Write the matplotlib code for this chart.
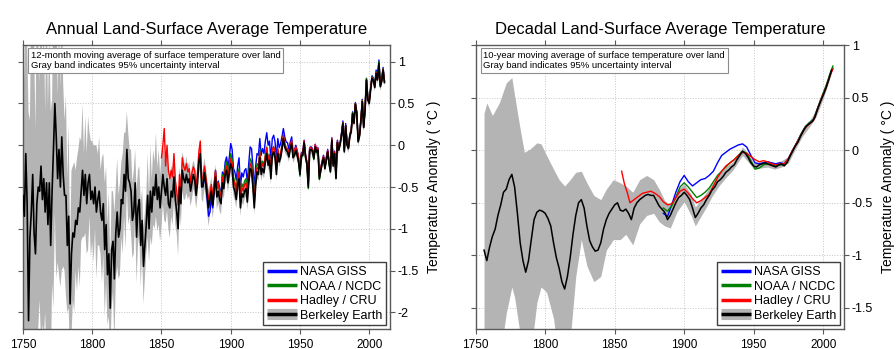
import numpy as np
import matplotlib
matplotlib.use("Agg")
import matplotlib.pyplot as plt
from matplotlib.lines import Line2D

plt.rcParams['font.family'] = ['Liberation Sans', 'DejaVu Sans']
plt.rcParams['axes.unicode_minus'] = False

# ---------------------------------------------------------------
# Annual panel: 12-month moving average
# ---------------------------------------------------------------
years_be = np.arange(1750, 2012)
be_annual = [
    -0.60, -0.85, -0.10, -0.70, -2.10, -1.10, -0.80, -0.35, -1.05, -1.30,
    -0.70, -0.50, -0.55, -0.25, -0.65, -0.40, -0.80, -0.45, -0.95, -0.45,
    -1.20, -0.55, -0.05, 0.50, 0.10, -0.40, -0.05, -0.50, 0.10, -0.35,
    -0.60, -0.60, -1.20, -0.85, -1.90, -1.30, -1.05, -1.10, -0.90, -0.95,
    -0.75, -0.80, -0.55, -0.30, -0.60, -0.35, -0.70, -0.45, -0.35, -0.65,
    -0.55, -0.70, -0.50, -0.80, -0.65, -0.55, -0.80, -0.90, -0.70, -1.25,
    -0.95, -1.55, -1.30, -1.95, -1.25, -1.15, -1.60, -1.05, -0.80, -1.10,
    -1.00, -0.65, -0.70, -0.35, -0.55, -0.05, -0.40, -0.45, -0.55, -0.90,
    -0.80, -0.45, -1.10, -0.75, -0.65, -1.20, -0.90, -1.45, -1.20, -0.95,
    -0.60, -1.00, -0.55, -0.80, -0.50, -0.60, -0.35, -0.65, -0.50, -0.75,
    -0.55, -0.35, -0.50, -0.60, -0.40, -0.70, -0.75, -0.55, -0.62, -0.38,
    -0.65, -0.80, -1.00, -0.50, -0.70, -0.30, -0.40, -0.45, -0.35, -0.45,
    -0.40, -0.55, -0.45, -0.35, -0.42, -0.60, -0.45, -0.20, -0.10, -0.50,
    -0.48, -0.33, -0.45, -0.60, -0.75, -0.65, -0.55, -0.72, -0.55, -0.38,
    -0.62, -0.55, -0.65, -0.70, -0.45, -0.52, -0.35, -0.30, -0.45, -0.33,
    -0.22, -0.28, -0.50, -0.55, -0.65, -0.48, -0.40, -0.75, -0.58, -0.62,
    -0.55, -0.52, -0.68, -0.45, -0.28, -0.30, -0.50, -0.75, -0.48, -0.32,
    -0.35, -0.15, -0.35, -0.28, -0.33, -0.20, -0.10, -0.24, -0.18, -0.40,
    -0.12, -0.08, -0.15, -0.35, -0.10, -0.20, -0.15, -0.05, 0.08, -0.02,
    -0.06, -0.08, -0.14, -0.04, 0.02, -0.15, -0.12, -0.06, -0.12, -0.20,
    -0.35, -0.12, -0.12, 0.03, -0.14, -0.22, -0.50, -0.06, -0.05, -0.07,
    -0.16, -0.02, -0.08, -0.06, -0.40, -0.30, -0.22, -0.15, -0.28, -0.18,
    -0.08, -0.22, -0.32, 0.06, -0.25, -0.10, -0.40, 0.03, -0.06, 0.01,
    0.12, 0.26, -0.08, 0.23, 0.00, -0.04, 0.11, 0.16, 0.38, 0.26,
    0.49, 0.38, 0.04, 0.11, 0.29, 0.52, 0.21, 0.42, 0.78, 0.54,
    0.50, 0.66, 0.80, 0.78, 0.69, 0.86, 0.78, 0.98, 0.70, 0.76,
    0.90, 0.75,
]
# half width of the 95% band
be_annual_unc = [
    2.2, 1.6, 2.8, 1.9, 2.5, 1.4, 2.6, 1.8, 2.3, 1.5,
    2.4, 1.7, 1.3, 2.1, 1.5, 1.9, 1.2, 2.2, 1.4, 1.8,
    1.6, 1.1, 1.9, 1.3, 1.7, 1.0, 1.5, 1.2, 1.6, 1.1,
    0.9, 1.2, 0.8, 1.1, 0.7, 1.0, 0.8, 0.9, 0.6, 0.8,
    0.7, 0.9, 0.6, 0.8, 0.5, 0.7, 0.6, 0.8, 0.5, 0.7,
    0.6, 0.7, 0.5, 0.8, 0.55, 0.65, 0.5, 0.75, 0.6, 0.8,
    0.7, 0.6, 0.75, 0.55, 0.7, 0.6, 0.8, 0.55, 0.65, 0.5,
    0.55, 0.45, 0.6, 0.5, 0.7, 0.45, 0.55, 0.4, 0.5, 0.45,
    0.5, 0.4, 0.55, 0.45, 0.4, 0.5, 0.38, 0.45, 0.4, 0.35,
    0.5, 0.4, 0.55, 0.4, 0.45, 0.4, 0.5, 0.38, 0.45, 0.4,
    0.42, 0.35, 0.4, 0.33, 0.38, 0.3, 0.36, 0.3, 0.34, 0.28,
    0.3, 0.26, 0.32, 0.24, 0.27, 0.22, 0.25, 0.2, 0.22, 0.2,
    0.2, 0.18, 0.19, 0.17, 0.18, 0.16, 0.17, 0.15, 0.16, 0.15,
    0.2, 0.18, 0.19, 0.2, 0.22, 0.18, 0.17, 0.16, 0.15, 0.15,
    0.15, 0.14, 0.14, 0.13, 0.13, 0.12, 0.12, 0.12, 0.11, 0.11,
    0.12, 0.11, 0.11, 0.11, 0.1, 0.1, 0.1, 0.1, 0.1, 0.1,
    0.1, 0.09, 0.09, 0.09, 0.09, 0.09, 0.09, 0.08, 0.08, 0.08,
    0.08, 0.08, 0.08, 0.07, 0.07, 0.07, 0.07, 0.07, 0.07, 0.07,
    0.06, 0.06, 0.06, 0.06, 0.06, 0.06, 0.06, 0.06, 0.06, 0.06,
    0.06, 0.06, 0.06, 0.06, 0.06, 0.06, 0.06, 0.06, 0.06, 0.06,
    0.05, 0.05, 0.05, 0.05, 0.05, 0.05, 0.05, 0.05, 0.05, 0.05,
    0.05, 0.05, 0.05, 0.05, 0.05, 0.05, 0.05, 0.05, 0.05, 0.05,
    0.05, 0.05, 0.05, 0.05, 0.05, 0.05, 0.05, 0.05, 0.05, 0.05,
    0.05, 0.05, 0.05, 0.05, 0.05, 0.05, 0.05, 0.05, 0.05, 0.05,
    0.05, 0.05, 0.05, 0.05, 0.05, 0.05, 0.05, 0.05, 0.05, 0.05,
    0.05, 0.05, 0.05, 0.05, 0.05, 0.05, 0.05, 0.05, 0.05, 0.05,
    0.05, 0.05,
]

years_had = np.arange(1850, 2012)
had_annual = [
    -0.15, 0.00, 0.20, -0.25, 0.00, -0.30, -0.40, -0.30, -0.38, -0.10,
    -0.42, -0.55, -0.72, -0.35, -0.55, -0.15, -0.25, -0.30, -0.22, -0.32,
    -0.28, -0.45, -0.33, -0.26, -0.30, -0.50, -0.32, -0.08, 0.05, -0.40,
    -0.40, -0.25, -0.38, -0.52, -0.65, -0.58, -0.47, -0.62, -0.45, -0.30,
    -0.52, -0.45, -0.56, -0.62, -0.38, -0.45, -0.30, -0.25, -0.38, -0.27,
    -0.16, -0.21, -0.42, -0.47, -0.55, -0.40, -0.32, -0.64, -0.50, -0.55,
    -0.47, -0.45, -0.60, -0.40, -0.22, -0.25, -0.45, -0.68, -0.42, -0.27,
    -0.28, -0.08, -0.28, -0.22, -0.26, -0.13, -0.03, -0.17, -0.12, -0.33,
    -0.05, -0.02, -0.08, -0.28, -0.04, -0.14, -0.10, 0.00, 0.12, 0.02,
    -0.04, -0.04, -0.10, 0.00, 0.06, -0.10, -0.06, -0.02, -0.06, -0.14,
    -0.30, -0.10, -0.09, 0.05, -0.12, -0.20, -0.45, -0.03, -0.03, -0.05,
    -0.13, 0.01, -0.05, -0.04, -0.36, -0.27, -0.19, -0.13, -0.25, -0.15,
    -0.06, -0.20, -0.28, 0.08, -0.22, -0.08, -0.37, 0.05, -0.04, 0.02,
    0.13, 0.27, -0.06, 0.24, 0.01, -0.03, 0.12, 0.18, 0.38, 0.28,
    0.50, 0.39, 0.06, 0.12, 0.31, 0.53, 0.22, 0.44, 0.78, 0.56,
    0.52, 0.68, 0.81, 0.78, 0.70, 0.87, 0.79, 0.96, 0.72, 0.77,
    0.91, 0.76,
]

years_us = np.arange(1880, 2012)
giss_annual = [
    -0.50, -0.35, -0.48, -0.65, -0.85, -0.80, -0.62, -0.75, -0.55, -0.30,
    -0.50, -0.43, -0.52, -0.58, -0.32, -0.38, -0.20, -0.14, -0.27, -0.14,
    0.02, -0.05, -0.28, -0.32, -0.42, -0.25, -0.15, -0.50, -0.33, -0.38,
    -0.30, -0.28, -0.45, -0.22, -0.02, -0.04, -0.25, -0.52, -0.25, -0.10,
    -0.12, 0.08, -0.12, -0.04, -0.10, 0.05, 0.15, 0.00, 0.05, -0.18,
    0.08, 0.12, 0.04, -0.16, 0.08, -0.03, 0.02, 0.10, 0.20, 0.10,
    0.04, 0.03, -0.05, 0.04, 0.10, -0.07, -0.06, 0.00, -0.07, -0.16,
    -0.30, -0.09, -0.09, 0.06, -0.11, -0.20, -0.46, -0.03, -0.02, -0.04,
    -0.13, 0.01, -0.05, -0.03, -0.37, -0.27, -0.19, -0.12, -0.25, -0.15,
    -0.05, -0.19, -0.29, 0.09, -0.22, -0.07, -0.37, 0.06, -0.03, 0.03,
    0.15, 0.29, -0.05, 0.26, 0.02, -0.02, 0.13, 0.19, 0.40, 0.28,
    0.51, 0.40, 0.06, 0.13, 0.31, 0.55, 0.22, 0.44, 0.80, 0.57,
    0.53, 0.69, 0.83, 0.80, 0.72, 0.90, 0.80, 1.02, 0.72, 0.79,
    0.93, 0.77,
]
noaa_annual = [
    -0.44, -0.28, -0.40, -0.56, -0.70, -0.62, -0.50, -0.66, -0.50, -0.32,
    -0.52, -0.45, -0.55, -0.60, -0.35, -0.42, -0.25, -0.20, -0.34, -0.22,
    -0.10, -0.17, -0.38, -0.44, -0.52, -0.36, -0.28, -0.62, -0.46, -0.50,
    -0.43, -0.40, -0.56, -0.34, -0.16, -0.19, -0.39, -0.63, -0.37, -0.22,
    -0.25, -0.05, -0.26, -0.19, -0.24, -0.11, -0.02, -0.16, -0.11, -0.33,
    -0.06, -0.02, -0.09, -0.29, -0.05, -0.15, -0.10, -0.01, 0.11, 0.01,
    -0.04, -0.06, -0.12, -0.02, 0.04, -0.14, -0.12, -0.06, -0.12, -0.21,
    -0.37, -0.14, -0.13, 0.02, -0.15, -0.24, -0.52, -0.07, -0.06, -0.08,
    -0.17, -0.03, -0.09, -0.07, -0.41, -0.31, -0.22, -0.15, -0.28, -0.18,
    -0.08, -0.22, -0.31, 0.07, -0.24, -0.09, -0.39, 0.04, -0.05, 0.02,
    0.13, 0.27, -0.07, 0.24, 0.01, -0.03, 0.12, 0.17, 0.39, 0.27,
    0.50, 0.39, 0.05, 0.12, 0.30, 0.54, 0.22, 0.44, 0.80, 0.56,
    0.52, 0.68, 0.82, 0.80, 0.71, 0.88, 0.80, 1.00, 0.72, 0.78,
    0.92, 0.77,
]

# ---------------------------------------------------------------
# Decadal panel: 10-year moving average
# ---------------------------------------------------------------
years_be_dec = np.arange(1756, 2007, 2)
be_decadal = [
    -0.95, -1.05, -0.92, -0.82, -0.75, -0.62, -0.52, -0.40, -0.37, -0.28,
    -0.23, -0.35, -0.60, -0.88, -1.05, -1.16, -1.05, -0.85, -0.66, -0.59,
    -0.57, -0.58, -0.60, -0.65, -0.72, -0.88, -1.02, -1.12, -1.25, -1.32,
    -1.20, -1.02, -0.80, -0.62, -0.50, -0.47, -0.55, -0.72, -0.86, -0.92,
    -0.96, -0.95, -0.88, -0.75, -0.66, -0.60, -0.56, -0.52, -0.50, -0.57,
    -0.58, -0.56, -0.60, -0.66, -0.55, -0.50, -0.47, -0.45, -0.43, -0.42,
    -0.43, -0.43, -0.48, -0.53, -0.56, -0.59, -0.66, -0.62, -0.56, -0.50,
    -0.45, -0.43, -0.40, -0.43, -0.47, -0.55, -0.64, -0.60, -0.55, -0.52,
    -0.47, -0.43, -0.38, -0.35, -0.30, -0.28, -0.25, -0.21, -0.19, -0.16,
    -0.14, -0.09, -0.05, -0.01, -0.03, -0.07, -0.12, -0.15, -0.16, -0.14,
    -0.13, -0.12, -0.13, -0.14, -0.15, -0.16, -0.14, -0.13, -0.15, -0.12,
    -0.06, -0.01, 0.04, 0.08, 0.14, 0.19, 0.23, 0.25, 0.27, 0.31,
    0.39, 0.46, 0.52, 0.59, 0.67, 0.76,
]
band_years_dec = [
    1756, 1758, 1762, 1767, 1772, 1776, 1778, 1782, 1785, 1789,
    1794, 1797, 1801, 1806, 1810, 1814, 1818, 1822, 1826, 1830,
    1835, 1840, 1844, 1849, 1854, 1858, 1863, 1868, 1873, 1878,
    1882, 1886, 1890, 1895, 1900, 1905, 1908, 1912, 1916, 1920,
    1925, 1930, 1935, 1940, 1942, 1946, 1950, 1955, 1960, 1965,
    1970, 1975, 1980, 1985, 1990, 1995, 2000, 2006,
]
band_upper_dec = [
    0.35, 0.45, 0.33, 0.45, 0.64, 0.69, 0.52, 0.20, -0.02, 0.01,
    0.07, 0.06, -0.05, -0.18, -0.28, -0.34, -0.28, -0.21, -0.20, -0.31,
    -0.43, -0.47, -0.37, -0.28, -0.31, -0.34, -0.40, -0.28, -0.24, -0.28,
    -0.37, -0.48, -0.52, -0.38, -0.32, -0.42, -0.54, -0.47, -0.40, -0.32,
    -0.23, -0.16, -0.11, -0.01, 0.03, -0.03, -0.12, -0.11, -0.10, -0.12,
    -0.10, -0.06, 0.07, 0.19, 0.28, 0.38, 0.55, 0.79,
]
band_lower_dec = [
    -2.4, -2.4, -2.3, -2.0, -1.55, -1.3, -1.4, -1.75, -2.2, -2.0,
    -1.45, -1.3, -1.35, -1.6, -2.0, -2.3, -1.8, -1.2, -0.85, -1.1,
    -1.25, -1.2, -0.95, -0.85, -0.85, -0.80, -0.90, -0.70, -0.62, -0.60,
    -0.68, -0.72, -0.74, -0.58, -0.49, -0.62, -0.72, -0.63, -0.54, -0.44,
    -0.34, -0.26, -0.19, -0.09, -0.05, -0.11, -0.18, -0.17, -0.16, -0.18,
    -0.16, -0.12, 0.01, 0.13, 0.22, 0.32, 0.49, 0.73,
]

years_us_dec = list(range(1885, 2006, 3)) + [2007]
giss_decadal = [
    -0.60, -0.63, -0.52, -0.40, -0.30, -0.24, -0.30, -0.34, -0.31, -0.28,
    -0.27, -0.24, -0.20, -0.12, -0.05, -0.02, 0.01, 0.03, 0.05, 0.06,
    0.03, -0.05, -0.12, -0.13, -0.12, -0.11, -0.12, -0.13, -0.12, -0.13,
    -0.08, 0.00, 0.07, 0.15, 0.22, 0.26, 0.29, 0.40, 0.50, 0.60,
    0.72, 0.78,
]
noaa_decadal = [
    -0.55, -0.58, -0.53, -0.45, -0.35, -0.31, -0.35, -0.40, -0.45, -0.43,
    -0.40, -0.36, -0.30, -0.24, -0.20, -0.16, -0.12, -0.09, -0.05, -0.01,
    -0.03, -0.10, -0.18, -0.17, -0.14, -0.13, -0.14, -0.15, -0.14, -0.14,
    -0.09, -0.01, 0.07, 0.15, 0.22, 0.26, 0.29, 0.40, 0.51, 0.61,
    0.73, 0.80,
]
years_had_dec = [1855, 1857, 1859, 1861] + list(range(1864, 2006, 3)) + [2007]
had_decadal = [
    -0.20, -0.32, -0.40, -0.50,
    -0.47, -0.44, -0.41, -0.40, -0.39, -0.41, -0.44, -0.49, -0.52, -0.51,
    -0.45, -0.39, -0.37, -0.41, -0.46, -0.50, -0.48, -0.45, -0.42, -0.34,
    -0.26, -0.20, -0.15, -0.12, -0.09, -0.05, -0.02, -0.03, -0.06, -0.09,
    -0.11, -0.10, -0.11, -0.13, -0.14, -0.13, -0.13, -0.08, 0.00, 0.07,
    0.14, 0.21, 0.25, 0.28, 0.39, 0.50, 0.59, 0.71,
    0.77,
]

C_GISS = '#0000ff'
C_NOAA = '#008000'
C_HAD = '#ff0000'
C_BAND = '#b4b4b4'
SPINE = '#5a5a5a'


def style_axes(ax, ylim, yticks, title, note):
    ax.set_xlim(1750, 2015)
    ax.set_ylim(*ylim)
    ax.set_xticks(range(1750, 2001, 50))
    ax.set_yticks(yticks)
    ax.set_yticklabels([f'{t:g}' for t in yticks])
    ax.tick_params(axis='both', direction='out', length=3.5, width=0.8,
                   color=SPINE, labelsize=9)
    ax.tick_params(axis='x', top=True, bottom=True, labelsize=8.5)
    ax.tick_params(axis='y', left=True, right=True,
                   labelleft=False, labelright=True, pad=2)
    ax.grid(True, linestyle=':', color='#c4c4c4', linewidth=0.7)
    ax.set_axisbelow(True)
    for s in ax.spines.values():
        s.set_color(SPINE)
        s.set_linewidth(1.0)
    ax.yaxis.set_label_position('right')
    ax.set_ylabel('Temperature Anomaly ( °C )', fontsize=10, labelpad=6)
    ax.set_title(title, fontsize=12, pad=8)
    ax.text(0.021, 0.978, note, transform=ax.transAxes, fontsize=6.8,
            va='top', ha='left', zorder=6, linespacing=1.15,
            bbox=dict(boxstyle='square,pad=0.3', fc='white', ec='#8c8c8c', lw=0.8))

    handles = [
        Line2D([], [], color=C_GISS, lw=2.5, solid_capstyle='butt'),
        Line2D([], [], color=C_NOAA, lw=2.5, solid_capstyle='butt'),
        Line2D([], [], color=C_HAD, lw=2.5, solid_capstyle='butt'),
        (Line2D([], [], color=C_BAND, lw=8, solid_capstyle='butt'),
         Line2D([], [], color='black', lw=2.5, solid_capstyle='butt')),
    ]
    labels = ['NASA GISS', 'NOAA / NCDC', 'Hadley / CRU', 'Berkeley Earth']
    leg = ax.legend(handles, labels, loc='lower right', fontsize=9,
                    handlelength=2.4, handletextpad=0.25, labelspacing=0.2,
                    borderpad=0.3, borderaxespad=0.3, fancybox=False,
                    framealpha=1, edgecolor='#404040')
    leg.get_frame().set_linewidth(1.0)
    leg.set_zorder(7)


fig = plt.figure(figsize=(8.96, 3.49), dpi=100)
ax1 = fig.add_axes([23 / 896, 20 / 349, 367 / 896, 284 / 349])
ax2 = fig.add_axes([475.7 / 896, 20 / 349, 368.3 / 896, 284 / 349])

# annual
be = np.array(be_annual)
unc = np.array(be_annual_unc)
ax1.fill_between(years_be, be - unc, be + unc, color=C_BAND, lw=0, zorder=1)
ax1.plot(years_us, giss_annual, color=C_GISS, lw=1.0, zorder=2)
ax1.plot(years_us, noaa_annual, color=C_NOAA, lw=1.0, zorder=2)
ax1.plot(years_had, had_annual, color=C_HAD, lw=1.0, zorder=2)
ax1.plot(years_be, be, color='black', lw=1.2, zorder=3)
style_axes(ax1, (-2.2, 1.2), [1, 0.5, 0, -0.5, -1, -1.5, -2],
           'Annual Land-Surface Average Temperature',
           '12-month moving average of surface temperature over land\n'
           'Gray band indicates 95% uncertainty interval')

# decadal
ax2.fill_between(band_years_dec, band_lower_dec, band_upper_dec,
                 color=C_BAND, lw=0, zorder=1)
ax2.plot(years_us_dec, giss_decadal, color=C_GISS, lw=1.0, zorder=2)
ax2.plot(years_us_dec, noaa_decadal, color=C_NOAA, lw=1.0, zorder=2)
ax2.plot(years_had_dec, had_decadal, color=C_HAD, lw=1.0, zorder=2)
ax2.plot(years_be_dec, be_decadal, color='black', lw=1.1, zorder=3)
style_axes(ax2, (-1.7, 1.0), [1, 0.5, 0, -0.5, -1, -1.5],
           'Decadal Land-Surface Average Temperature',
           '10-year moving average of surface temperature over land\n'
           'Gray band indicates 95% uncertainty interval')

fig.savefig('out.png', dpi=100)
